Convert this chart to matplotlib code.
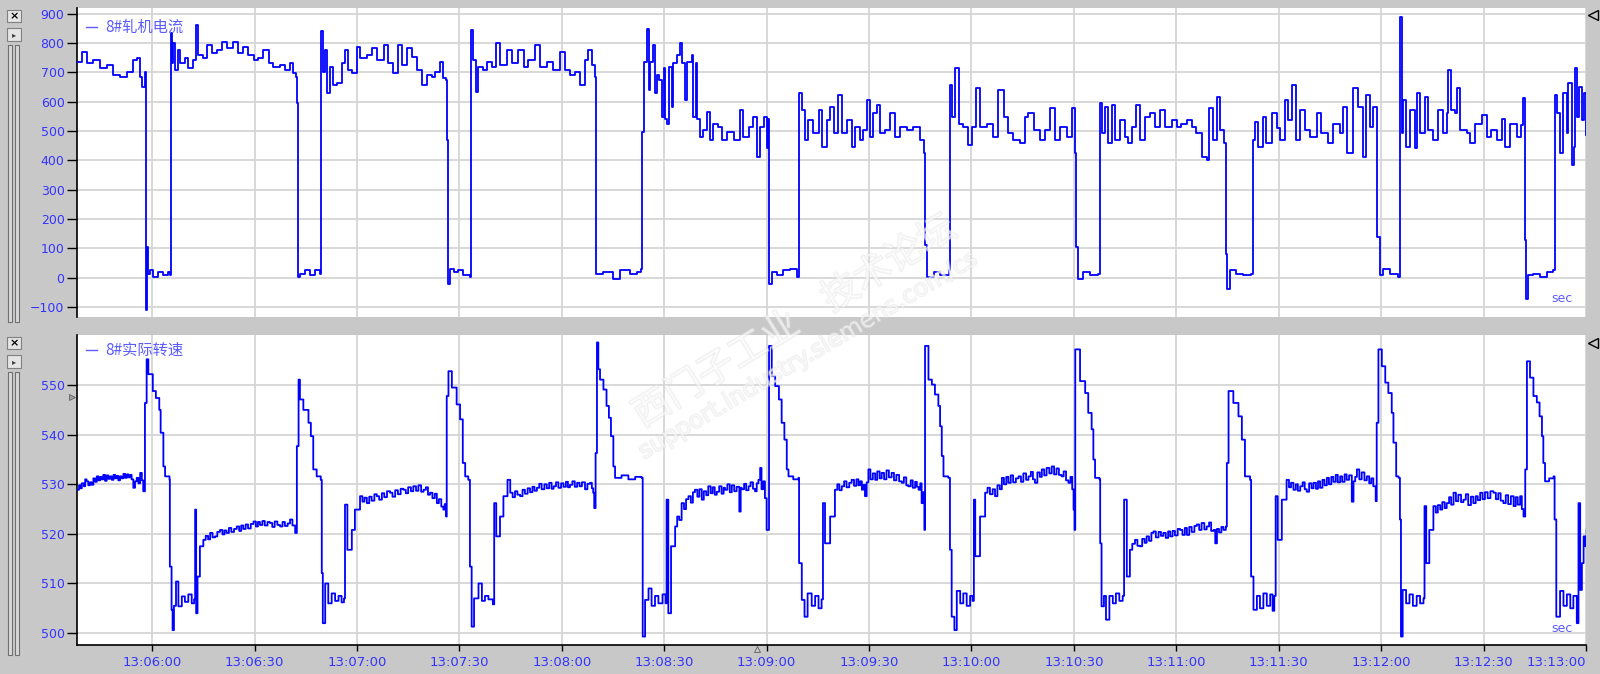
"""
Two-channel trend recorder view: 8# mill current and actual speed, 13:05:38 - 13:13:00.
"""

import datetime as dt
import matplotlib
matplotlib.use('Agg')
import matplotlib.pyplot as plt
import matplotlib.patheffects as pe
from matplotlib.patches import Rectangle
from matplotlib.lines import Line2D
from matplotlib.ticker import FixedLocator, FuncFormatter

W, H = 1600, 674
T0 = dt.datetime(2000, 1, 1, 13, 5, 38)

# ── data (seconds after 13:05:38, value held until next sample) ───────────
CUR_T = [0.0, 1.4, 2.8, 4.8, 6.7, 8.7, 10.6, 12.6, 14.6, 16.5, 17.5, 18.5, 19.0, 19.9,
         20.1, 20.6, 20.9, 21.4, 22.4, 23.8, 25.3, 26.8, 27.2,
         27.5, 27.8, 28.2, 28.7, 29.7, 30.2, 31.6, 32.6, 34.1, 34.8, 35.5, 37.0, 38.0, 39.5,
         40.9, 42.4, 43.9, 45.8, 47.3, 48.7, 50.2, 51.7, 53.1, 54.6, 56.1, 57.5, 59.5, 60.9,
         62.4, 63.4, 64.2, 64.4,
         64.7, 65.3, 66.8, 68.3, 69.7, 71.2,
         71.5, 72.0, 72.7, 73.1, 74.1, 75.1, 76.1, 77.5, 78.5, 79.5, 80.5, 82.0, 82.9, 84.9,
         86.3, 87.8, 89.8, 91.2, 92.7, 94.1, 95.1, 96.6, 98.1, 99.5, 101.0, 102.4, 103.9,
         104.9, 106.4, 107.3, 108.1, 108.3,
         108.8, 109.3, 110.3, 111.7, 113.2, 115.1,
         115.4, 116.1, 116.9, 117.6, 119.0, 120.0, 121.5, 122.8, 124.0, 125.9, 127.4, 129.3,
         130.8, 132.2, 134.2, 135.6, 137.6, 139.5, 141.5, 143.0, 144.4, 145.9, 147.4, 148.8,
         149.8, 150.8, 151.8,
         152.0, 154.2, 157.1, 159.1, 162.0, 163.9, 165.1,
         165.6, 166.1, 166.9, 167.4, 167.8, 168.8, 169.3, 169.8, 170.6, 171.3, 171.8, 172.2,
         172.7, 173.5, 174.2, 174.7, 175.7, 176.6, 177.1, 178.1, 178.8, 180.1, 180.5, 181.2,
         181.7, 182.5, 183.5, 184.5, 185.4, 186.4, 187.9, 188.8, 190.3, 192.3, 194.2, 195.2,
         196.7, 198.1, 199.1, 200.1, 201.1, 202.0, 202.5,
         202.7, 203.5, 205.0, 206.9, 208.9, 210.8,
         211.5, 212.3, 213.3, 214.2, 215.7, 217.2, 218.1, 219.6, 220.6, 221.6, 223.0, 224.0,
         225.5, 226.9, 227.9, 229.4, 230.3, 231.3, 232.3, 233.3, 234.3, 235.2, 236.7, 238.2,
         239.6, 241.1, 243.0, 245.0, 246.9, 248.1,
         248.4, 248.9, 250.9, 252.8, 255.3,
         255.7, 256.2, 257.2, 258.2, 259.6, 261.1, 262.1, 263.4, 264.5, 266.5, 268.4, 269.9,
         271.4, 272.8, 274.3, 276.2, 277.7, 278.7, 280.2, 282.1, 283.6, 285.0, 286.5, 288.0,
         289.9, 291.4, 292.4,
         292.7, 293.3, 294.8, 296.8, 299.2,
         299.6, 300.1, 301.1, 302.0, 303.3, 304.0, 305.5, 306.9, 307.9, 308.9, 310.3, 311.3,
         312.8, 314.2, 315.7, 317.2, 318.6, 320.6, 322.1, 323.5, 325.0, 326.5, 327.9, 329.4,
         330.9, 331.6, 332.8, 333.8, 334.8, 335.9,
         336.5, 336.8, 337.7, 339.6, 341.6, 344.0,
         344.4, 345.0, 346.0, 347.5, 348.4, 349.9, 351.4, 352.3, 353.8, 354.8, 356.0, 357.2,
         358.2, 359.7, 361.1, 363.1, 364.5, 366.5, 368.0, 369.9, 370.9, 371.9, 373.8, 375.3,
         376.7, 377.5, 378.7, 379.7, 380.7,
         380.9, 381.6, 382.6, 384.6, 387.0,
         387.5, 388.0, 388.5, 389.4, 390.4, 391.9, 392.4, 393.4, 394.8, 395.8, 397.3, 398.7,
         400.2, 401.2, 401.7, 402.6, 403.6, 404.3, 405.1, 407.0, 408.0, 409.5, 411.4, 412.9,
         414.3, 415.8, 417.3, 418.3, 419.7, 421.7, 423.1, 423.6,
         424.0, 424.4, 425.1, 426.6, 428.5, 430.5, 432.4,
         432.8, 433.4, 434.4, 435.3, 436.3, 436.8, 437.8, 438.5, 438.9, 439.4, 440.0, 440.7,
         441.4, 442.0]
CUR_V = [737, 771, 732, 743, 714, 726, 692, 686, 703, 743, 749, 686, 652, 703,
         -111, 105, 14, 25, 3, 20, 9, 20, 9,
         834, 731, 800, 709, 777, 731, 748, 714, 743, 862, 760, 748, 794, 766,
         777, 805, 783, 805, 766, 788, 760, 743, 748, 777, 731, 720, 726, 709,
         731, 697, 686, 595,
         3, 14, 25, 9, 25, 14,
         840, 703, 777, 629, 720, 657, 663, 731, 777, 709, 697, 788, 748, 760,
         783, 743, 794, 731, 697, 794, 726, 783, 754, 709, 657, 692, 686,
         703, 737, 680, 675, 469,
         -20, 31, 20, 25, 9, 3,
         845, 743, 635, 720, 709, 737, 720, 800, 726, 777, 731, 777,
         720, 743, 794, 720, 737, 709, 771, 709, 692, 703, 657, 743,
         777, 726, 686,
         14, 20, -3, 25, 14, 20, 31,
         498, 737, 848, 640, 737, 794, 629, 692, 675, 549, 714, 543,
         526, 720, 583, 731, 760, 800, 731, 606, 737, 760, 549, 731,
         543, 481, 504, 566, 469, 526, 515, 469, 498, 469, 572, 481,
         515, 549, 413, 515, 549, 441, 543,
         -20, 20, 9, 25, 31, 3,
         629, 572, 469, 538, 492, 572, 447, 538, 583, 492, 623, 492,
         538, 447, 515, 469, 504, 606, 481, 561, 589, 492, 504, 561,
         481, 515, 504, 515, 469, 424,
         111, 3, 20, 9, 25,
         657, 549, 714, 526, 515, 452, 515, 646, 515, 526, 481, 640,
         549, 492, 469, 458, 549, 561, 504, 469, 504, 578, 469, 515,
         481, 578, 424,
         105, -3, 20, 9, 14,
         595, 492, 583, 458, 589, 469, 538, 481, 458, 515, 589, 469,
         549, 561, 515, 572, 515, 538, 515, 526, 538, 515, 492, 413,
         401, 578, 469, 617, 504, 458,
         82, -37, 25, 14, 9, 14,
         469, 532, 447, 549, 458, 561, 509, 469, 606, 538, 657, 469,
         572, 504, 481, 561, 492, 458, 526, 492, 583, 424, 646, 583,
         413, 623, 515, 583, 492,
         139, 9, 31, 14, 3,
         891, 492, 606, 447, 572, 441, 629, 492, 617, 504, 469, 572,
         492, 561, 709, 572, 561, 646, 504, 492, 458, 526, 555, 481,
         504, 469, 543, 447, 526, 481, 521, 612,
         128, -72, 9, 14, 3, 20, 25,
         623, 561, 424, 629, 492, 663, 384, 447, 714, 549, 651, 538,
         629, 487]

# speed trace as (seconds, rpm) samples
SPEED = [
    (0.0, 528.9), (0.6, 529.8), (1.0, 529.2), (1.4, 530.2), (2.0, 529.6), (2.4, 531.0),
    (2.8, 530.6), (3.3, 529.8), (3.8, 530.4), (4.3, 529.9), (4.8, 531.2), (5.3, 530.5),
    (5.8, 531.6), (6.3, 530.8), (6.8, 531.5), (7.2, 531.0), (7.7, 531.9), (8.2, 530.7),
    (8.7, 531.8), (9.2, 531.1), (9.7, 531.6), (10.2, 530.9), (10.7, 531.9), (11.2, 531.2),
    (11.6, 531.7), (12.1, 530.8), (12.6, 531.6), (13.1, 531.2), (13.6, 532.1), (14.1, 531.3),
    (14.6, 532.0), (15.1, 531.4), (15.6, 531.9), (16.0, 531.0), (16.5, 529.3), (17.0, 530.6),
    (17.5, 531.3), (18.0, 530.2), (18.5, 532.3), (19.0, 530.8), (19.4, 528.6),
    (19.9, 546.4), (20.4, 555.2), (20.9, 552.2), (22.2, 548.8), (23.1, 547.4), (24.1, 545.0),
    (24.5, 540.4), (25.3, 533.6), (25.8, 531.6), (27.1, 530.9),
    (27.2, 513.4), (27.7, 504.7), (28.0, 500.6), (28.4, 505.5), (29.0, 510.4), (29.7, 505.4),
    (30.7, 507.4), (31.6, 506.3), (32.6, 507.8), (33.6, 506.0), (34.3, 506.8), (34.6, 524.9),
    (34.9, 504.0), (35.3, 511.4), (36.0, 517.5),
    (37.0, 518.8), (37.7, 519.6), (38.4, 518.9), (39.0, 520.2), (39.7, 519.3), (40.4, 519.5),
    (41.1, 520.4), (41.9, 520.8), (42.6, 519.9), (43.2, 520.7), (43.8, 520.2), (44.5, 521.2),
    (45.2, 520.4), (46.0, 521.0), (46.8, 521.5), (47.5, 520.6), (48.1, 521.7), (48.7, 521.0),
    (49.4, 521.9), (50.1, 521.1), (50.9, 522.0), (51.7, 522.5), (52.4, 521.5), (53.0, 522.4),
    (53.6, 521.8), (54.3, 522.6), (55.0, 521.7), (55.8, 522.4), (56.5, 522.2), (57.2, 521.4),
    (57.9, 522.5), (58.7, 521.8), (59.5, 521.5), (60.2, 522.4), (60.9, 521.6), (61.7, 522.1),
    (62.4, 522.9), (63.1, 521.7), (63.9, 520.2),
    (64.4, 537.7), (64.9, 551.1), (65.3, 547.1), (66.3, 545.0), (67.8, 542.4), (68.5, 539.7),
    (69.2, 533.0), (70.2, 531.6), (71.4, 530.9),
    (71.7, 512.1), (72.0, 502.0), (72.7, 510.0), (73.6, 506.0), (74.6, 508.0), (75.6, 506.5),
    (76.6, 507.5), (77.5, 506.2), (78.2, 507.0), (78.5, 525.9), (79.2, 516.8), (80.5, 520.8),
    (81.4, 524.9),
    (82.9, 527.6), (83.6, 526.5), (84.2, 527.3), (84.9, 526.2), (85.6, 527.5), (86.3, 526.7),
    (87.1, 528.0), (87.8, 527.6), (88.5, 526.9), (89.3, 528.2), (90.0, 527.4), (90.8, 528.6),
    (91.7, 528.3), (92.4, 527.5), (93.2, 528.8), (94.0, 528.0), (94.8, 529.1), (95.6, 528.9),
    (96.3, 528.2), (97.0, 529.4), (97.8, 528.6), (98.5, 529.6), (99.3, 528.7), (100.0, 529.8),
    (100.8, 528.5), (101.5, 528.9), (102.2, 529.4), (102.8, 527.9), (103.4, 528.3), (104.1, 527.2),
    (104.8, 528.1), (105.4, 526.2), (106.0, 527.0), (106.7, 525.5), (107.3, 524.9), (107.7, 526.0),
    (108.1, 523.5),
    (108.3, 547.8), (108.8, 552.8), (109.8, 549.5), (111.2, 546.1), (112.2, 543.1), (113.0, 534.3),
    (113.7, 531.6), (114.6, 530.9),
    (115.1, 513.4), (115.6, 501.3), (116.3, 507.0), (117.6, 510.0), (118.6, 506.5), (119.5, 507.5),
    (120.5, 506.8), (121.8, 505.8), (122.2, 526.2), (122.8, 519.5), (123.9, 523.5), (124.9, 527.6),
    (126.1, 530.9),
    (126.9, 528.3), (127.6, 527.4), (128.3, 528.6), (129.0, 527.9), (129.8, 527.6), (130.5, 528.9),
    (131.2, 528.1), (132.0, 529.2), (132.7, 528.4), (133.4, 529.5), (134.0, 528.7), (134.7, 529.3),
    (135.4, 530.1), (136.1, 529.0), (136.9, 530.0), (137.6, 529.2), (138.3, 530.3), (139.0, 529.1),
    (139.6, 529.6), (140.3, 530.4), (141.0, 529.3), (141.8, 530.2), (142.5, 529.5), (143.2, 530.5),
    (143.8, 529.4), (144.4, 529.9), (145.1, 530.6), (145.8, 529.5), (146.5, 530.3), (147.2, 529.6),
    (147.9, 530.4), (148.8, 529.0), (149.5, 530.1), (150.3, 530.3), (150.8, 529.2), (151.2, 528.3),
    (151.5, 525.2), (151.9, 536.3), (152.3, 558.6), (152.7, 553.2), (153.2, 551.1), (154.2, 549.1),
    (155.1, 545.8), (155.8, 543.4), (156.4, 539.7), (157.1, 533.6), (157.6, 531.3), (159.5, 531.8),
    (161.5, 531.0), (163.5, 531.5), (165.4, 531.3),
    (165.7, 499.3), (166.4, 506.7), (167.4, 509.0), (168.3, 505.5), (169.3, 507.5), (170.3, 506.0),
    (171.5, 507.8), (172.4, 506.0), (172.7, 526.9), (173.2, 504.0), (174.0, 517.5),
    (175.2, 521.5), (175.8, 523.5), (176.4, 522.8), (177.1, 526.2), (177.8, 525.0), (178.4, 527.0),
    (179.1, 527.6), (179.8, 526.3), (180.4, 528.4), (181.0, 528.9), (181.7, 527.5), (182.3, 529.0),
    (183.0, 526.9), (183.6, 528.6), (184.3, 527.8), (184.9, 529.6), (185.6, 528.2), (186.2, 529.4),
    (186.8, 527.9), (187.4, 528.5), (188.1, 529.6), (188.8, 528.1), (189.4, 529.3), (189.8, 528.9),
    (190.5, 530.0), (191.2, 528.4), (191.8, 529.8), (192.5, 528.6), (193.2, 529.5), (194.0, 524.5),
    (194.4, 529.3), (194.7, 529.0), (195.4, 530.1), (196.0, 528.8), (196.7, 529.6), (197.3, 530.4),
    (198.0, 529.1), (198.6, 528.6), (199.1, 530.2), (199.6, 530.9), (200.1, 533.3), (200.5, 529.0),
    (201.0, 530.6), (201.5, 527.2), (202.0, 520.8),
    (202.7, 557.9), (203.5, 551.8), (204.5, 549.8), (205.6, 547.1), (206.4, 542.4), (207.2, 539.0),
    (207.9, 533.0), (208.4, 531.6), (209.8, 531.0), (211.3, 531.3),
    (211.5, 514.1), (212.3, 506.7), (213.1, 503.3), (214.0, 508.0), (215.2, 505.5), (216.2, 507.5),
    (217.2, 505.0), (218.1, 506.8), (218.5, 526.2), (219.1, 518.1), (220.6, 523.5),
    (222.0, 528.9), (222.7, 530.0), (223.3, 528.8), (224.0, 529.6), (224.7, 530.6), (225.4, 529.4),
    (226.2, 530.3), (226.9, 530.9), (227.6, 529.7), (228.3, 531.0), (228.9, 529.8), (229.4, 530.6),
    (229.9, 528.9), (230.3, 529.9), (230.8, 527.6), (231.3, 530.4), (231.8, 533.0), (232.4, 531.0),
    (233.1, 532.2), (233.8, 530.9), (234.4, 532.6), (235.1, 531.2), (235.7, 532.3), (236.4, 531.0),
    (237.1, 532.8), (237.8, 531.4), (238.6, 532.3), (239.3, 530.8), (240.0, 531.9), (240.8, 530.6),
    (241.6, 530.3), (242.2, 531.4), (242.9, 529.8), (243.5, 529.6), (244.2, 530.8), (244.8, 529.3),
    (245.5, 530.5), (246.0, 529.5), (246.5, 528.9), (247.0, 530.2), (247.4, 526.2), (247.8, 528.4),
    (248.2, 520.8),
    (248.4, 557.9), (249.4, 551.1), (250.4, 550.1), (251.3, 548.1), (252.3, 545.8), (252.8, 541.7),
    (253.3, 535.7), (253.8, 531.6), (255.2, 531.3),
    (255.7, 516.8), (256.2, 503.3), (257.0, 500.6), (257.7, 508.5), (258.7, 506.0), (259.6, 508.0),
    (260.6, 505.5), (261.6, 507.5), (262.3, 506.5), (262.7, 526.9), (263.1, 515.5), (264.5, 523.5),
    (266.0, 528.3), (266.7, 529.3), (267.4, 528.0), (268.2, 529.0), (268.9, 527.6), (269.6, 529.8),
    (270.3, 529.0), (270.9, 531.3), (271.5, 530.0), (272.2, 531.5), (272.8, 530.3), (273.5, 531.8),
    (274.2, 530.4), (275.0, 531.2), (275.8, 531.6), (276.5, 530.5), (277.2, 532.2), (278.0, 530.9),
    (278.7, 531.6), (279.4, 532.5), (280.0, 531.0), (280.6, 530.3), (281.3, 532.4), (282.0, 531.5),
    (282.6, 533.0), (283.3, 531.8), (284.0, 533.3), (284.8, 532.2), (285.5, 533.6), (286.2, 532.0),
    (286.9, 533.2), (287.6, 531.9), (288.4, 531.6), (289.0, 532.6), (289.7, 530.8), (290.4, 530.3),
    (291.0, 531.5), (291.5, 529.0), (291.9, 524.9), (292.2, 520.8),
    (292.4, 557.2), (293.8, 550.8), (295.3, 548.4), (296.2, 544.4), (297.2, 541.1), (297.7, 535.0),
    (298.2, 531.3), (299.5, 531.0),
    (299.7, 518.1), (300.1, 505.4), (300.8, 507.5), (301.4, 502.7), (302.4, 507.5), (303.4, 506.0),
    (304.3, 508.0), (305.3, 506.5), (306.3, 507.5), (306.7, 526.9), (307.5, 511.4),
    (308.4, 516.8), (309.1, 518.0), (309.9, 518.8), (310.6, 517.6), (311.4, 517.5), (312.0, 519.0),
    (312.7, 518.2), (313.3, 519.5), (314.0, 518.6), (314.7, 520.2), (315.3, 520.5), (316.0, 519.3),
    (316.8, 520.4), (317.5, 519.6), (318.2, 520.2), (318.9, 519.2), (319.6, 520.5), (320.2, 519.5),
    (320.9, 520.6), (321.6, 519.7), (322.4, 521.0), (323.1, 520.8), (323.8, 519.8), (324.5, 521.2),
    (325.1, 519.8), (325.8, 521.4), (326.5, 520.4), (327.3, 521.6), (328.0, 521.9), (328.7, 520.8),
    (329.4, 522.2), (330.2, 520.9), (330.9, 521.5), (331.6, 522.3), (332.2, 520.6), (332.9, 520.8),
    (333.4, 518.1), (333.9, 521.0), (334.5, 520.3), (335.2, 521.4), (335.8, 520.8), (336.5, 521.5),
    (336.8, 534.3), (337.3, 548.8), (338.7, 546.4), (340.2, 543.7), (341.2, 539.0), (342.1, 531.6),
    (343.6, 530.9),
    (343.9, 511.4), (344.6, 504.7), (345.6, 507.5), (346.5, 505.0), (347.5, 508.0), (348.5, 505.5),
    (349.5, 507.8), (350.2, 504.5), (350.7, 507.5), (351.1, 527.6), (351.7, 518.8), (352.9, 526.9),
    (354.3, 530.9), (355.0, 529.4), (355.6, 530.3), (356.3, 528.9), (357.0, 530.0), (357.6, 528.7),
    (358.3, 529.6), (359.0, 530.4), (359.6, 529.0), (360.2, 528.5), (360.9, 530.2), (361.6, 529.2),
    (362.2, 530.3), (362.9, 529.1), (363.5, 530.6), (364.1, 529.3), (364.8, 530.9), (365.4, 529.8),
    (366.1, 531.3), (366.7, 530.0), (367.4, 531.5), (368.0, 530.5), (368.7, 531.9), (369.3, 530.4),
    (370.0, 531.6), (370.6, 530.5), (371.3, 532.0), (371.9, 530.9), (372.6, 531.8), (373.4, 526.5),
    (373.9, 530.6), (374.4, 531.5), (374.9, 533.0), (375.6, 531.0), (376.3, 532.4), (377.1, 530.8),
    (377.8, 531.6), (378.5, 530.2), (379.1, 531.2), (379.7, 529.6), (380.4, 526.6),
    (380.7, 542.4), (381.2, 557.2), (382.2, 553.8), (383.2, 550.5), (384.1, 548.4), (385.1, 544.4),
    (385.6, 538.4), (386.4, 531.6), (387.1, 531.3),
    (387.5, 522.9), (387.8, 499.3), (388.3, 508.7), (389.3, 506.0), (390.3, 507.8), (391.3, 505.5),
    (392.4, 507.5), (393.4, 506.0), (394.4, 507.0), (394.7, 525.6), (395.2, 514.1), (396.1, 520.8),
    (397.3, 525.6), (398.0, 524.3), (398.6, 525.8), (399.3, 524.9), (399.9, 526.4), (400.6, 525.2),
    (401.2, 526.2), (401.9, 527.4), (402.5, 525.9), (403.2, 528.3), (403.9, 526.6), (404.6, 527.9),
    (405.4, 526.4), (406.1, 526.9), (406.8, 528.0), (407.5, 525.8), (408.3, 527.5), (409.0, 526.2),
    (409.7, 527.6), (410.3, 526.8), (411.0, 528.3), (411.7, 527.0), (412.4, 528.4), (413.2, 527.2),
    (414.0, 528.6), (414.9, 528.3), (415.6, 527.0), (416.3, 528.2), (417.0, 526.7), (417.8, 526.2),
    (418.5, 527.8), (419.2, 526.0), (420.0, 527.6), (420.8, 525.6), (421.4, 527.4), (422.0, 525.9),
    (422.7, 527.6), (423.2, 525.0), (423.7, 523.5),
    (424.2, 533.0), (424.7, 554.8), (425.6, 551.5), (426.6, 547.8), (427.6, 546.5), (428.4, 543.7),
    (429.1, 539.7), (429.5, 534.3), (430.0, 530.6), (431.2, 531.2), (432.5, 531.6),
    (432.8, 522.9), (433.3, 503.3), (434.4, 508.5), (435.4, 505.5), (436.4, 507.8), (437.4, 505.0),
    (438.3, 507.5), (439.3, 502.0), (439.8, 526.2), (440.3, 508.7), (440.8, 514.1), (441.3, 519.5),
    (441.8, 517.5), (442.2, 520.8),
]
SPD_T = [p[0] for p in SPEED]
SPD_V = [p[1] for p in SPEED]

TICK_T = list(range(22, 443, 30))          # 13:06:00 ... 13:13:00
CUR_YTICKS = list(range(-100, 901, 100))
SPD_YTICKS = list(range(500, 551, 10))

CUR_NAME = '8#轧机电流'
SPD_NAME = '8#实际转速'

# ── style ─────────────────────────────────────────────────────────────────
BG = '#c8c8c8'
GRID = '#d6d6d6'
LINE = '#0000ff'
LBL = '#3434ff'
LEG = '#5c5cff'

plt.rcParams['font.family'] = ['DejaVu Sans', 'Noto Sans CJK SC']


def fx(x):
    return x / W


def fy(y):
    return 1 - y / H


def tfmt(t, pos=None):
    return (T0 + dt.timedelta(seconds=float(t))).strftime('%H:%M:%S')


fig = plt.figure(figsize=(W / 100, H / 100), dpi=100, facecolor=BG)

ax1 = fig.add_axes([fx(77), fy(317), (1586 - 77) / W, (317 - 8) / H])
ax2 = fig.add_axes([fx(77), fy(645), (1586 - 77) / W, (645 - 335) / H])

for ax, t, v, lim, yt in [(ax1, CUR_T, CUR_V, (-134, 920), CUR_YTICKS),
                          (ax2, SPD_T, SPD_V, (497.6, 560.1), SPD_YTICKS)]:
    ax.set_facecolor('white')
    ax.plot(t, v, color=LINE, lw=1.3, drawstyle='steps-post', zorder=3)
    ax.set_xlim(0, 442)
    ax.set_ylim(*lim)
    ax.xaxis.set_major_locator(FixedLocator(TICK_T))
    ax.yaxis.set_major_locator(FixedLocator(yt))
    ax.grid(True, color=GRID, lw=1.3, zorder=0)
    ax.set_axisbelow(True)
    for s in ['top', 'right']:
        ax.spines[s].set_visible(False)
    ax.spines['left'].set_color('black')
    ax.spines['left'].set_linewidth(1.2)
    ax.tick_params(axis='y', length=7, width=1, colors='black', labelcolor=LBL,
                   labelsize=9, pad=2)

ax1.spines['bottom'].set_visible(False)
ax1.tick_params(axis='x', length=0, labelbottom=False)

ax2.spines['bottom'].set_color('black')
ax2.spines['bottom'].set_linewidth(1.2)
ax2.xaxis.set_major_formatter(FuncFormatter(tfmt))
ax2.tick_params(axis='x', length=4, width=1, colors='black', labelcolor=LBL,
                labelsize=9.5, pad=4)
# last time label sits flush with the right end of the axis
ax2.xaxis.get_major_ticks()[-1].label1.set_horizontalalignment('right')

# channel names and unit tags
for y, name in [(27, CUR_NAME), (350, SPD_NAME)]:
    fig.add_artist(Line2D([fx(86), fx(97)], [fy(y), fy(y)], color=LEG, lw=1))
    fig.text(fx(105), fy(y), name, color=LEG, fontsize=11, va='center', ha='left',
             family=['Noto Sans CJK SC', 'DejaVu Sans'])
for y in [299, 628]:
    fig.text(fx(1562), fy(y), 'sec', color=LEG, fontsize=9, va='center', ha='center')

# recorder window controls on the left
for top in [10, 337]:
    fig.add_artist(Rectangle((fx(7), fy(top + 12)), 14 / W, 12 / H, transform=fig.transFigure,
                             facecolor='#e4e4e4', edgecolor='#808080', lw=0.8))
    fig.text(fx(14), fy(top + 6), '×', fontsize=8, fontweight='bold', ha='center', va='center')
    fig.add_artist(Rectangle((fx(7), fy(top + 31)), 14 / W, 13 / H, transform=fig.transFigure,
                             facecolor='#e4e4e4', edgecolor='#808080', lw=0.8))
    fig.text(fx(14.5), fy(top + 24.5), '▸', fontsize=6, ha='center', va='center', color='#404040')
for y0, y1 in [(45, 322), (372, 655)]:
    for x0 in [8, 15]:
        fig.add_artist(Rectangle((fx(x0), fy(y1)), 4 / W, (y1 - y0) / H, transform=fig.transFigure,
                                 facecolor='#d8d8d8', edgecolor='#707070', lw=0.8))

for y in [15, 343]:
    fig.add_artist(Line2D([fx(1593)], [fy(y)], marker='<', markersize=7, markerfacecolor='none',
                          markeredgecolor='black', markeredgewidth=1))
fig.add_artist(Line2D([fx(72)], [fy(397)], marker='>', markersize=4, markerfacecolor='#a0a0a0',
                      markeredgecolor='#606060', markeredgewidth=0.6))
fig.add_artist(Line2D([fx(757)], [fy(649)], marker='^', markersize=4, markerfacecolor='none',
                      markeredgecolor='#606060', markeredgewidth=0.6))

# forum watermark: faint white letters with a light grey outline
wm = [pe.withStroke(linewidth=1.4, foreground='#dcdcdc')]
fig.text(fx(795), fy(322), '西门子工业    技术论坛', fontsize=27, rotation=31.5,
         ha='center', va='center', rotation_mode='anchor', color='white', alpha=0.4,
         family=['Noto Sans CJK SC'], zorder=10, path_effects=wm)
fig.text(fx(808), fy(355), 'support.industry.siemens.com/cs', fontsize=17, rotation=30.4,
         ha='center', va='center', rotation_mode='anchor', color='white', alpha=0.4,
         zorder=10, path_effects=wm)

plt.savefig('out.png', dpi=100, facecolor=BG)
plt.close()
